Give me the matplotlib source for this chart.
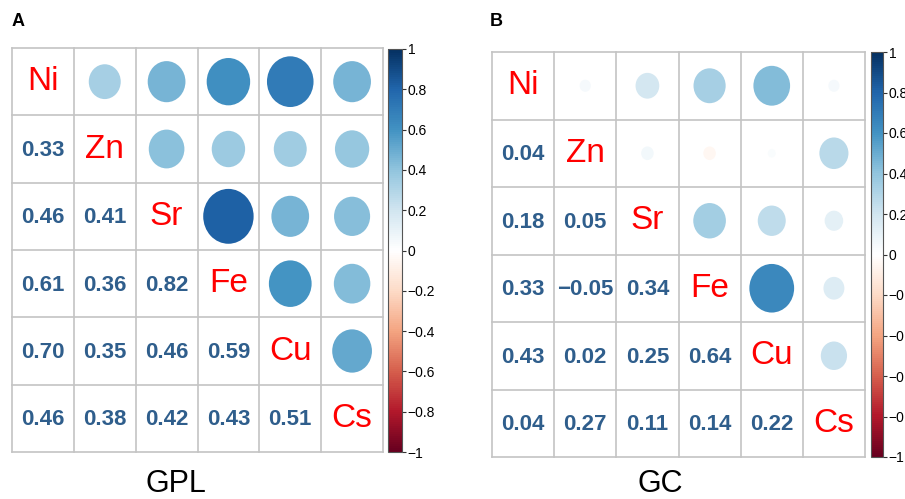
import numpy as np
import matplotlib
matplotlib.use("Agg")
import matplotlib.pyplot as plt
from matplotlib.colors import LinearSegmentedColormap, Normalize
from matplotlib.patches import Ellipse
from matplotlib.colorbar import ColorbarBase

elements = ["Ni", "Zn", "Sr", "Fe", "Cu", "Cs"]

# lower-triangle correlations (row i, col j<i)
gpl_lower = [
    [],
    [0.33],
    [0.46, 0.41],
    [0.61, 0.36, 0.82],
    [0.70, 0.35, 0.46, 0.59],
    [0.46, 0.38, 0.42, 0.43, 0.51],
]
gc_lower = [
    [],
    [0.04],
    [0.18, 0.05],
    [0.33, -0.05, 0.34],
    [0.43, 0.02, 0.25, 0.64],
    [0.04, 0.27, 0.11, 0.14, 0.22],
]
panel_titles = ["GPL", "GC"]
panel_letters = ["A", "B"]
cbar_ticks = [-1, -0.8, -0.6, -0.4, -0.2, 0, 0.2, 0.4, 0.6, 0.8, 1]
cbar_ticklabels = ["\u22121", "\u22120.8", "\u22120.6", "\u22120.4", "\u22120.2", "0",
                   "0.2", "0.4", "0.6", "0.8", "1"]

cmap = LinearSegmentedColormap.from_list(
    "corrRdBu",
    ["#67001F", "#B2182B", "#D6604D", "#F4A582", "#FDDBC7", "#FFFFFF",
     "#D1E5F0", "#92C5DE", "#4393C3", "#2166AC", "#053061"], N=200)
norm = Normalize(-1, 1)

W, H = 905, 499
fig = plt.figure(figsize=(W / 100, H / 100), dpi=100)


def px_axes(x0, y0, x1, y1):
    return fig.add_axes([x0 / W, 1 - y1 / H, (x1 - x0) / W, (y1 - y0) / H])


def full_matrix(lower):
    n = len(elements)
    m = np.eye(n)
    for i in range(n):
        for j in range(i):
            m[i, j] = lower[i][j]
            m[j, i] = lower[i][j]
    return m


num_font = ["Liberation Sans", "DejaVu Sans"]
title_font = ["DejaVu Sans Condensed", "Liberation Sans"]
grid_col = "#C4C4C4"
num_col = "#2F5E8C"

layouts = [
    dict(grid=(12, 48, 383, 452), cbar=(388, 49, 402, 452), letter=(12, 22), title=(176, 484)),
    dict(grid=(492, 52, 865, 457), cbar=(871, 52, 883, 457), letter=(490, 22), title=(660, 484)),
]

for lower, title, letter, lay in zip([gpl_lower, gc_lower], panel_titles, panel_letters, layouts):
    mat = full_matrix(lower)
    n = len(elements)
    ax = px_axes(*lay["grid"])
    ax.set_xlim(0, n)
    ax.set_ylim(n, 0)
    ax.set_axis_off()
    for k in range(n + 1):
        ax.plot([k, k], [0, n], color=grid_col, lw=1.2, zorder=1, clip_on=False)
        ax.plot([0, n], [k, k], color=grid_col, lw=1.2, zorder=1, clip_on=False)
    for i in range(n):
        for j in range(n):
            v = mat[i, j]
            cx, cy = j + 0.5, i + 0.5
            if i == j:
                ax.text(cx, cy, elements[i], color="#FF0000", fontsize=24,
                        family=["Liberation Sans", "DejaVu Sans"],
                        ha="center", va="center")
            elif i > j:
                ax.text(cx, cy + 0.02, f"{v:.2f}".replace("-", "\u2212"), color=num_col,
                        fontsize=16, fontweight="bold", family=num_font,
                        ha="center", va="center")
            else:
                d = 0.9 * np.sqrt(abs(v))
                ax.add_patch(Ellipse((cx, cy), d, d, facecolor=cmap(norm(v)),
                                     edgecolor="none", zorder=2))
    cax = px_axes(*lay["cbar"])
    cb = ColorbarBase(cax, cmap=cmap, norm=norm, orientation="vertical")
    cb.set_ticks(cbar_ticks)
    cb.set_ticklabels(cbar_ticklabels)
    cb.outline.set_edgecolor("#555555")
    cb.outline.set_linewidth(0.8)
    cax.tick_params(labelsize=10, length=3, width=0.8, color="#333333", pad=1)
    for t in cax.get_yticklabels():
        t.set_family(["Liberation Sans", "DejaVu Sans"])
    fig.text(lay["letter"][0] / W, 1 - lay["letter"][1] / H, letter, fontsize=13,
             fontweight="bold", ha="left", va="center",
             family=["Liberation Sans", "DejaVu Sans"])
    fig.text(lay["title"][0] / W, 1 - lay["title"][1] / H, title, fontsize=22,
             family=title_font, ha="center", va="center")

fig.savefig("out.png", dpi=100)
